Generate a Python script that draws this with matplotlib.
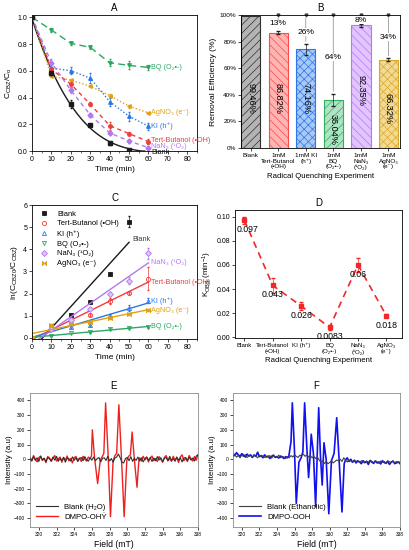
import numpy as np
import matplotlib
matplotlib.use('Agg')
import matplotlib.pyplot as plt
from matplotlib.lines import Line2D

plt.rcParams['font.family'] = ['Liberation Sans', 'DejaVu Sans']
plt.rcParams['mathtext.fontset'] = 'custom'
plt.rcParams['mathtext.rm'] = 'Liberation Sans'
plt.rcParams['mathtext.it'] = 'Liberation Sans:italic'
plt.rcParams['axes.linewidth'] = 0.6

# ---------------- data ----------------
time = [0, 10, 20, 30, 40, 50, 60]
time_blank = [0, 10, 20, 30, 40, 50]
names = ['Blank', 'Tert-Butanol (\u2022OH)', 'KI (h\u207a)', 'BQ (O\u2082\u2022-)',
         'NaN\u2083 (\u00b9O\u2082)', 'AgNO\u2083 (e\u207b)']

# Panel A: C/C0
a_blank = [1.0, 0.58, 0.355, 0.195, 0.058, 0.005]
a_blank_err = [0, 0.01, 0.03, 0.01, 0.01, 0.01]
a_tb = [1.0, 0.61, 0.50, 0.35, 0.19, 0.13, 0.07]
a_tb_err = [0, 0.02, 0.02, 0.015, 0.03, 0.01, 0.02]
a_ki = [1.0, 0.62, 0.60, 0.545, 0.37, 0.26, 0.185]
a_ki_err = [0, 0.03, 0.025, 0.04, 0.03, 0.035, 0.025]
a_bq = [1.0, 0.905, 0.805, 0.775, 0.66, 0.64, 0.625]
a_bq_err = [0, 0.015, 0.01, 0.01, 0.025, 0.03, 0.02]
a_nan3 = [1.0, 0.66, 0.455, 0.27, 0.135, 0.075, 0.025]
a_nan3_err = [0, 0.03, 0.02, 0.015, 0.015, 0.015, 0.01]
a_ag = [1.0, 0.56, 0.53, 0.485, 0.415, 0.335, 0.285]
a_ag_err = [0, 0.01, 0.01, 0.005, 0.01, 0.01, 0.01]

# Panel B: removal efficiency
b_labels = ['Blank', '1mM\nTert-Butanol\n(\u2022OH)', '1mM KI\n(h\u207a)', '1mM\nBQ\n(O\u2082\u2022-)',
            '1mM\nNaN\u2083\n(\u00b9O\u2082)', '1mM\nAgNO\u2083\n(e\u207b)']
b_values = [99.46, 86.82, 74.16, 36.04, 92.35, 66.32]
b_err = [0.3, 1.2, 4.0, 4.5, 1.0, 1.0]

# Panel C: ln(C0/C)
c_blank = [0, 0.55, 1.05, 1.63, 2.90, 5.25]
c_blank_err = [0, 0.03, 0.05, 0.05, 0.05, 0.25]
c_tb = [0, 0.50, 0.69, 1.05, 1.66, 2.03, 2.68]
c_tb_err = [0, 0.03, 0.05, 0.05, 0.15, 0.05, 0.5]
c_ki = [0, 0.48, 0.51, 0.60, 0.99, 1.35, 1.68]
c_ki_err = [0, 0.03, 0.05, 0.05, 0.08, 0.12, 0.12]
c_bq = [0, 0.10, 0.22, 0.25, 0.41, 0.45, 0.47]
c_bq_err = [0, 0.02, 0.02, 0.02, 0.04, 0.03, 0.02]
c_nan3 = [0, 0.41, 0.79, 1.31, 2.00, 2.59, 3.83]
c_nan3_err = [0, 0.04, 0.06, 0.05, 0.08, 0.15, 0.25]
c_ag = [0, 0.58, 0.63, 0.72, 0.88, 1.09, 1.25]
c_ag_err = [0, 0.03, 0.05, 0.04, 0.04, 0.04, 0.04]

# Panel D: k_obs
d_labels = ['Blank', 'Tert-Butanol\n(\u2022OH)', 'KI (h\u207a)', 'BQ\n(O\u2082\u2022-)',
            'NaN\u2083\n(\u00b9O\u2082)', 'AgNO\u2083\n(e\u207b)']
d_k = [0.097, 0.043, 0.026, 0.0083, 0.06, 0.018]
d_k_text = ['0.097', '0.043', '0.026', '0.0083', '0.06', '0.018']
d_err = [0.003, 0.006, 0.003, 0.002, 0.006, 0.001]

# Panel E: EPR (DMPO-OH)
e_blank = [5, -12, 18, -8, 10, -15, 22, -5, 8, -18,
           12, 3, -10, 15, -6, 20, -14, 6, -9, 14,
           -20, 8, 2, -12, 16, -7, 10, -16, 5, 12,
           -10, 18, -4, -13, 9, -6, 15, -10, 4, 12,
           -18, 6, 10, -8, 20, -12, 5, -20, 8, 15,
           35, 10, -20, -25, 5, 12, -10, 18, -14, 6,
           -8, 15, -12, 10, -18, 5, 14, -6, 12, -15,
           8, -10, 18, -5, 10, -16, 6, 12, -12, 20,
           -8, 4, -14, 16, -6, 10, -18, 8, 12, -10,
           14, -5, 8, -12, 22, 30]
e_red_left = [15, -10, 25, 0, -18, 12, 20, -8, 5, -22,
              18, 10, -15, 8, 25, -12, 3, 15, -20, 10,
              -5, 22, -10, 6, -25, 12, 18, -6, 8, -15,
              20, 0, -12, 15, 5]
e_red_peak_field = [325.95, 326.05, 326.3, 326.65, 326.95, 327.15, 327.35, 327.55, 327.85, 328.1,
                    328.4, 328.6, 328.8, 329.05, 329.35, 329.65, 329.95, 330.15, 330.35, 330.55,
                    330.8, 331.1, 331.3]
e_red_peak_val = [20, 200, 10, -165, -5, 15, 40, 383, 10, -390,
                  -10, 25, 40, 370, 0, -390, -5, 20, 30, 185,
                  0, -190, -15]
e_red_right = [10, -12, 20, -5, 15, -18, 8, 22, -10, 5,
               -15, 18, 0, -20, 12, 25, -8, 6, -14, 20,
               -5, 10, -22, 15, 30, -10, 8, -15, 25, 5,
               -12, 18, -6, 30]

# Panel F: EPR (DMPO-OOH)
f_blank = [20, 30, 15, 25, 10, 28, 18, 32, 12, 22,
           25, 15, 30, 20, 10, 28, 18, 24, 12, 20,
           15, 25, 8, 22, 18, 12, 28, 10, 20, 15,
           5, 18, 10, 25, 15, 30, 20, 12, 28, 22,
           35, 20, 30, 15, 25, 10, 20, 5, 15, -5,
           -20, -10, -28, -15, -30, -22, -10, -25, -15, -5,
           -10, 0, -15, 10, -5, -18, -8, -12, -20, -5,
           -15, -8, -22, -10, -18, -25, -12, -20, -8, -15,
           -22, -10, -18, -28, -12, -20, -15, -25, -10, -18,
           -20, -12, -25, -15, -22, -18]
f_blue_left = [40, 25, 45, 30, 20, 38, 28, 15, 35, 22,
               30, 12, 28, 20, 48, 18, 25, 10, 30, 15,
               22, 5, 20, 28, 12, 18, 8, 22, 15, 5,
               18, 10]
f_blue_peak_field = [325.35, 325.6, 325.75, 326.0, 326.2, 326.5, 326.75, 326.95, 327.15, 327.4,
                     327.6, 327.75, 327.9, 328.15, 328.4, 328.55, 328.75, 328.95, 329.15, 329.35,
                     329.6, 329.9, 330.2, 330.5, 330.8, 331.05, 331.4, 331.65]
f_blue_peak_val = [20, 120, 383, 50, -300, -20, 10, 50, 383, 80,
                   -124, 0, 170, 40, -322, -30, 350, 20, -175, 112,
                   0, -370, -10, 40, 282, 20, -358, -30]
f_blue_right = [-5, 10, -15, 0, -20, -8, -25, -12, -18, -30,
                -10, -22, -15, -35, -8, -20, -28, -12, -25, -18,
                -32, -10, -22, -28, -15, -35, -20, -12, -30, -25,
                -18, -30]

# ---------------- styles ----------------
C_BLK = '#1a1a1a'
C_TB = '#f03c3c'
C_KI = '#2a78e6'
C_BQ = '#2aa860'
C_NA = '#b278f0'
C_AG = '#e0a010'
bowtie = [(-1, -1), (1, 1), (1, -1), (-1, 1), (-1, -1)]

TICK = 5.0
LAB = 6
TIT = 7


def style_axes(ax, ts=TICK):
    ax.tick_params(direction='out', length=2, width=0.5, labelsize=ts, pad=1.5)
    for s in ax.spines.values():
        s.set_linewidth(0.6)


fig = plt.figure(figsize=(4.1, 5.5), dpi=100)

# ---------------- A ----------------
axA = fig.add_axes([32/410, 1-151/550, 165/410, 136/550])
t_fit = np.linspace(0, 58, 100)
p = np.polyfit(time_blank + [60], a_blank + [0.0], 3)
axA.plot(t_fit, np.clip(np.polyval(p, t_fit), 0, None), '-', color=C_BLK, lw=1.0, zorder=2)
axA.errorbar(time_blank, a_blank, yerr=a_blank_err, fmt='s', ms=2.5, color=C_BLK,
             elinewidth=0.5, capsize=1, zorder=3)
series_A = [(a_bq, a_bq_err, C_BQ, 'v', (0, (5, 3))),
            (a_ag, a_ag_err, C_AG, '<', (0, (1, 1.5))),
            (a_ki, a_ki_err, C_KI, '^', (0, (1, 1.5))),
            (a_tb, a_tb_err, C_TB, 'o', (0, (3, 2.5))),
            (a_nan3, a_nan3_err, C_NA, 'D', (0, (3, 2.5)))]
for vals, err, c, m, ls in series_A:
    axA.plot(time, vals, linestyle=ls, color=c, lw=1.0)
    axA.errorbar(time, vals, yerr=err, fmt=m, ms=2.5, color=c, elinewidth=0.5, capsize=1)
axA.text(61.5, a_bq[-1], names[3], color=C_BQ, fontsize=5.2, va='center')
axA.text(61.5, a_ag[-1], names[5], color=C_AG, fontsize=5.2, va='center')
axA.text(61.5, a_ki[-1], names[2], color=C_KI, fontsize=5.2, va='center')
axA.text(61.5, a_tb[-1] + 0.005, names[1], color=C_TB, fontsize=5.2, va='center')
axA.text(61.5, a_nan3[-1] + 0.01, names[4], color=C_NA, fontsize=5.2, va='center')
axA.text(61.5, -0.008, names[0], color=C_BLK, fontsize=5.2, va='center')
axA.set_xlim(0, 85)
axA.set_ylim(0, 1.017)
axA.set_xticks(range(0, 81, 10))
axA.set_xticks(range(5, 86, 10), minor=True)
axA.set_yticks(np.arange(0, 1.01, 0.2))
axA.set_yticklabels(['0.0', '0.2', '0.4', '0.6', '0.8', '1.0'])
axA.set_xlabel('Time (min)', fontsize=LAB, labelpad=2)
axA.set_ylabel(r'C$_{\rm CBZ}$/C$_{\rm o}$', fontsize=LAB, labelpad=2)
axA.set_title('A', fontsize=TIT, pad=3)
style_axes(axA)
axA.tick_params(which='minor', length=1.2, width=0.4)

# ---------------- B ----------------
axB = fig.add_axes([241/410, 1-148/550, 159/410, 133/550])
b_face = ['#b4b4b4', '#ffb4b4', '#a8c8f8', '#b0e2c4', '#e2c4ff', '#f2da96']
b_edge = ['#303030', '#ff4848', '#2a78e6', '#30b064', '#b478f0', '#d8a828']
b_hatch = ['////', '\\\\\\\\', 'xxxx', '////', '\\\\\\\\', 'xxxx']
b_text_y = [37, 37, 37, 14, 43, 30]
xb = np.arange(len(b_values))
plt.rcParams['hatch.linewidth'] = 0.5
for i, v in enumerate(b_values):
    axB.bar(xb[i], v, width=0.7, color=b_face[i], edgecolor=b_edge[i], hatch=b_hatch[i], lw=0.8)
    axB.text(xb[i], b_text_y[i], f'{v:.2f}%', rotation=270, ha='center', va='center', fontsize=6.6)
axB.errorbar(xb[1:], b_values[1:], yerr=b_err[1:], fmt='none', ecolor='#202020', elinewidth=0.5, capsize=1.2)
for i, v in enumerate(b_values[1:], start=1):
    axB.annotate('', xy=(xb[i], 100), xytext=(xb[i], v + b_err[i]),
                 arrowprops=dict(arrowstyle='-', color='#9a9a9a', lw=0.6))
    axB.plot([xb[i]], [100], marker='v', ms=2, color='#404040', clip_on=False)
    axB.text(xb[i], (v + 100) / 2, f'{round(100 - v)}%', ha='center', va='center', fontsize=6.1,
             bbox=dict(facecolor='white', edgecolor='none', pad=0.3))
axB.set_xlim(-0.35, 5.42)
axB.set_ylim(0, 100)
axB.set_yticks(range(0, 101, 20))
axB.set_yticklabels([f'{v}%' for v in range(0, 101, 20)])
axB.set_xticks(xb)
axB.set_xticklabels(b_labels, fontsize=5.0, linespacing=1.2)
axB.set_xlabel('Radical Quenching Experiment', fontsize=5.6, labelpad=2)
axB.set_ylabel('Removal Efficiency (%)', fontsize=6.1, labelpad=2)
axB.set_title('B', fontsize=TIT, pad=3)
style_axes(axB, 4.6)

# ---------------- C ----------------
axC = fig.add_axes([32/410, 1-339/550, 165/410, 134/550])
series_C = [(time_blank, c_blank, c_blank_err, C_BLK, 's', C_BLK, 50),
            (time, c_tb, c_tb_err, C_TB, 'o', 'none', 60),
            (time, c_ki, c_ki_err, C_KI, '^', 'none', 60),
            (time, c_bq, c_bq_err, C_BQ, 'v', 'none', 60),
            (time, c_nan3, c_nan3_err, C_NA, 'D', '#dcc4fa', 60),
            (time, c_ag, c_ag_err, C_AG, bowtie, C_AG, 60)]
handles = []
for (tt, vals, err, c, m, fc, tmax), nm in zip(series_C, names):
    sl, ic = np.polyfit(tt, vals, 1)
    xf = np.array([0, tmax])
    axC.plot(xf, sl * xf + ic, '-', color=c, lw=1.0)
    axC.errorbar(tt, vals, yerr=err, fmt='none', ecolor=c, elinewidth=0.5, capsize=1)
    axC.plot(tt, vals, linestyle='none', marker=m, ms=3, mfc=fc, mec=c, mew=0.6)
    handles.append(Line2D([], [], linestyle='none', marker=m, ms=3, mfc=fc, mec=c, mew=0.6, label=nm))
axC.text(51.5, 4.45, 'Blank', color='#404040', fontsize=5.2, va='center')
axC.text(61.5, 3.4, names[4], color=C_NA, fontsize=5.2, va='center')
axC.text(61.5, 2.5, names[1], color=C_TB, fontsize=5.2, va='center')
axC.text(61.5, 1.68, names[2], color=C_KI, fontsize=5.2, va='center')
axC.text(61.5, 1.25, names[5], color=C_AG, fontsize=5.2, va='center')
axC.text(61.5, 0.52, names[3], color=C_BQ, fontsize=5.2, va='center')
axC.legend(handles=handles, loc='upper left', bbox_to_anchor=(0.02, 1.0), frameon=False,
           fontsize=5.4, handlelength=1.0, handletextpad=1.2, labelspacing=0.35, borderaxespad=0.3)
axC.set_xlim(0, 85)
axC.set_ylim(-0.05, 6)
axC.set_xticks(range(0, 81, 10))
axC.set_xticks(range(5, 86, 10), minor=True)
axC.set_xlabel('Time (min)', fontsize=LAB, labelpad=2)
axC.set_ylabel(r'ln(C$_{\rm CBZ0}$/C$_{\rm CBZ}$)', fontsize=LAB, labelpad=2)
axC.set_title('C', fontsize=TIT, pad=3)
style_axes(axC)
axC.tick_params(which='minor', length=1.2, width=0.4)

# ---------------- D ----------------
axD = fig.add_axes([235/410, 1-338/550, 167/410, 128/550])
xd = np.arange(len(d_k))
axD.plot(xd, d_k, linestyle=(0, (4, 3)), color='#f02828', lw=1.2)
axD.errorbar(xd, d_k, yerr=d_err, fmt='s', ms=2.2, color='#f02828', elinewidth=0.5, capsize=1.2)
for x, y, s in zip(xd, d_k, d_k_text):
    axD.annotate(s, (x, y), xytext=(2 if x == 0 else 0, -3.5), textcoords='offset points',
                 ha='center', va='top', fontsize=6.3)
axD.set_xlim(-0.33, 5.55)
axD.set_ylim(-0.0005, 0.1055)
axD.set_yticks(np.arange(0, 0.101, 0.02))
axD.set_yticklabels(['0.00', '0.02', '0.04', '0.06', '0.08', '0.10'])
axD.set_xticks(xd)
axD.set_xticklabels(d_labels, fontsize=4.4, linespacing=1.3)
axD.set_xlabel('Radical Quenching Experiment', fontsize=5.6, labelpad=2)
axD.set_ylabel(r'K$_{\rm OBS}$ (min$^{-1}$)', fontsize=5.8, labelpad=2)
axD.set_title('D', fontsize=TIT, pad=3)
style_axes(axD, 5.0)
axD.tick_params(axis='x', labelsize=4.4)

# ---------------- E ----------------
axE = fig.add_axes([30/410, 1-527/550, 168/410, 134/550])
e_field_blank = np.linspace(319, 338, len(e_blank))
e_field_red = np.concatenate([np.linspace(319, 325.8, len(e_red_left)), e_red_peak_field,
                              np.linspace(331.4, 338, len(e_red_right))])
e_red = np.concatenate([e_red_left, e_red_peak_val, e_red_right])
lr, = axE.plot(e_field_red, e_red, color='#f02020', lw=1.0, zorder=2)
lb, = axE.plot(e_field_blank, e_blank, color='#303030', lw=0.8, zorder=3)
axE.legend([lb, lr], ['Blank (H\u2082O)', 'DMPO-OH\u1e8e'], loc='lower left', frameon=False,
           fontsize=5.6, handlelength=2.8, labelspacing=0.3, borderaxespad=0.4)
axE.set_xlim(319, 338)
axE.set_ylim(-460, 450)
axE.set_xticks(range(320, 339, 2))
axE.set_yticks(range(-400, 401, 100))
axE.set_xlabel('Field (mT)', fontsize=6.2, labelpad=2)
axE.set_ylabel('Intensity (a.u)', fontsize=5.8, labelpad=1)
axE.set_title('E', fontsize=TIT, pad=3)
style_axes(axE, 3.5)
for s in axE.spines.values():
    s.set_color('#8a8a8a')

# ---------------- F ----------------
axF = fig.add_axes([233/410, 1-527/550, 167/410, 134/550])
f_field_blank = np.linspace(319, 338, len(f_blank))
f_field_blue = np.concatenate([np.linspace(319, 325.2, len(f_blue_left)), f_blue_peak_field,
                               np.linspace(331.8, 338, len(f_blue_right))])
f_blue = np.concatenate([f_blue_left, f_blue_peak_val, f_blue_right])
lu, = axF.plot(f_field_blue, f_blue, color='#1010f0', lw=1.2, zorder=2)
lk, = axF.plot(f_field_blank, f_blank, color='#404040', lw=0.8, zorder=3)
axF.legend([lk, lu], ['Blank (Ethanolic)', 'DMPO-OOH'], loc='lower left', frameon=False,
           fontsize=5.6, handlelength=2.8, labelspacing=0.3, borderaxespad=0.4)
axF.set_xlim(319, 338)
axF.set_ylim(-460, 450)
axF.set_xticks(range(320, 339, 2))
axF.set_yticks(range(-400, 401, 100))
axF.set_xlabel('Field (mT)', fontsize=6.2, labelpad=2)
axF.set_ylabel('Intensity (a.u)', fontsize=5.8, labelpad=1)
axF.set_title('F', fontsize=TIT, pad=3)
style_axes(axF, 3.5)
for s in axF.spines.values():
    s.set_color('#8a8a8a')

fig.savefig('out.png', dpi=100)
